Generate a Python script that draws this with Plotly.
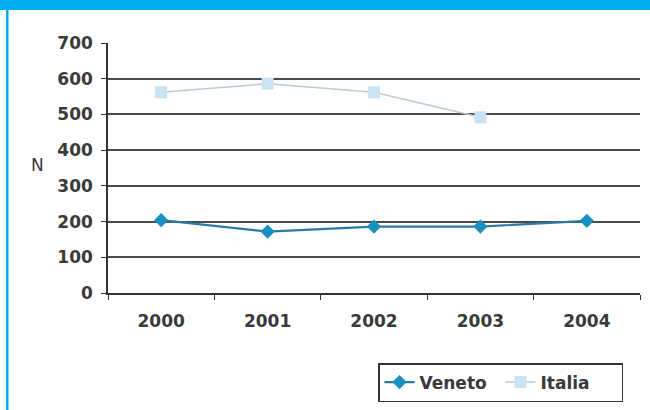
import plotly.graph_objects as go

years = ["2000", "2001", "2002", "2003", "2004"]
veneto = [204, 172, 186, 186, 202]
italia = [562, 586, 562, 492, None]
y_ticks = [0, 100, 200, 300, 400, 500, 600, 700]

W, H = 650, 410
L, R, T, B = 108, 10, 43, 117
pw, ph = W - L - R, H - T - B


def px_x(x):
    return (x - L) / pw


def px_y(y):
    return (H - B - y) / ph


FAM = "DejaVu Sans, Liberation Sans, Arial, sans-serif"
TXT = "#3a3a3a"

fig = go.Figure()
fig.add_trace(go.Scatter(
    x=years, y=veneto, name="Veneto", mode="lines+markers",
    line=dict(color="#2b7aa0", width=2.2),
    marker=dict(symbol="diamond", size=11, color="#1990bf"),
))
fig.add_trace(go.Scatter(
    x=years, y=italia, name="Italia", mode="lines+markers",
    line=dict(color="#b9cbd8", width=1.5),
    marker=dict(symbol="square", size=12, color="#c9e3f3"),
))

tick_font = dict(family=FAM, size=17, color=TXT, weight="bold")

fig.update_layout(
    width=W, height=H,
    margin=dict(l=L, r=R, t=T, b=B, autoexpand=False),
    paper_bgcolor="white", plot_bgcolor="white",
    font=dict(family=FAM, size=16, color=TXT),
    showlegend=True,
    legend=dict(
        orientation="h", x=px_x(378), y=px_y(363), xanchor="left", yanchor="top",
        bordercolor="#333333", borderwidth=1.5, bgcolor="white",
        font=dict(family=FAM, size=17, color=TXT, weight="bold"),
        entrywidth=76, tracegroupgap=0,
    ),
    xaxis=dict(
        type="category", showgrid=False, showline=True, linecolor="#333333",
        linewidth=1.5, ticks="outside", ticklen=5, tickcolor="#333333",
        tickson="boundaries", tickfont=tick_font, ticklabelstandoff=12,
        range=[-0.5, 4.5],
    ),
    yaxis=dict(
        range=[0, 700], tickvals=y_ticks, showline=True, linecolor="#333333",
        linewidth=1.5, ticks="outside", ticklen=5, tickcolor="#333333",
        showgrid=True, gridcolor="#4a4a4a", gridwidth=1.8, zeroline=False,
        tickfont=tick_font, ticklabelstandoff=5,
    ),
    annotations=[
        dict(text="N", xref="paper", yref="paper", x=px_x(37), y=px_y(165),
             xanchor="center", yanchor="middle", showarrow=False,
             font=dict(family=FAM, size=17, color=TXT)),
    ],
    shapes=[
        # blue header band
        dict(type="rect", xref="paper", yref="paper",
             x0=px_x(0), x1=px_x(W), y0=px_y(10), y1=px_y(0),
             fillcolor="#00aeef", line=dict(width=0), layer="below"),
        # blue left rule
        dict(type="rect", xref="paper", yref="paper",
             x0=px_x(6), x1=px_x(8.5), y0=px_y(H), y1=px_y(0),
             fillcolor="#00aeef", line=dict(width=0), layer="below"),
    ],
)

fig.write_html("out.html")
